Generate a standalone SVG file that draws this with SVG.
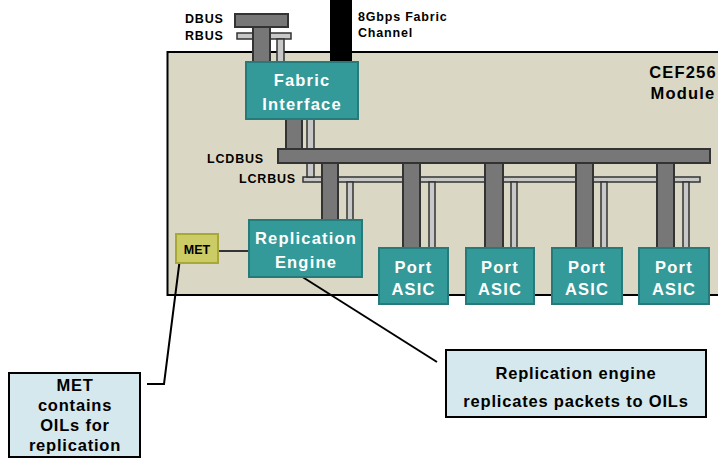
<svg xmlns="http://www.w3.org/2000/svg" width="718" height="458" viewBox="0 0 718 458">
  <style>
    text { font-family: "Liberation Sans", Arial, sans-serif; font-weight: bold; }
    .lbl { font-size: 12.5px; fill: #000; letter-spacing: 0.8px; }
    .box { fill: #339999; stroke: #267a7a; stroke-width: 2; }
    .boxt { font-size: 16.5px; fill: #fff; text-anchor: middle; letter-spacing: 1.2px; }
    .dbar { fill: #777; stroke: #333; stroke-width: 2; }
    .lbar { fill: #c8c8c8; stroke: #333; stroke-width: 1.5; }
    .note { fill: #d5e8ed; stroke: #000; stroke-width: 2; }
    .notet { font-size: 16.5px; fill: #000; text-anchor: middle; letter-spacing: 0.8px; }
    .wire { fill: none; stroke: #000; stroke-width: 2; }
  </style>

  <!-- module outline -->
  <g id="module">
    <rect x="167.5" y="52" width="560" height="243" fill="#dad8c4" stroke="#000" stroke-width="2"/>
    <text class="boxt" x="683" y="78" style="fill:#000">CEF256</text>
    <text class="boxt" x="683" y="99" style="fill:#000">Module</text>
  </g>

  <!-- buses and bus taps -->
  <g id="connectors">
    <!-- fabric channel -->
    <rect x="330" y="0" width="22" height="64" fill="#000"/>
    <!-- RBUS bar and tap -->
    <rect class="lbar" x="237" y="33" width="54" height="6"/>
    <rect class="lbar" x="277" y="39" width="7" height="24"/>
    <!-- DBUS bar and tap -->
    <rect class="dbar" x="235" y="14" width="53" height="13"/>
    <rect class="dbar" x="253" y="27" width="17" height="36"/>
    <!-- LCRBUS bar -->
    <rect class="lbar" x="303" y="177" width="397" height="5"/>
    <!-- fabric interface taps -->
    <rect class="lbar" x="307" y="118" width="7" height="59"/>
    <rect class="dbar" x="286" y="118" width="16" height="31"/>
    <!-- LCRBUS taps -->
    <rect class="lbar" x="347" y="182" width="6" height="38"/>
    <rect class="lbar" x="429" y="182" width="6" height="66"/>
    <rect class="lbar" x="511" y="182" width="6" height="66"/>
    <rect class="lbar" x="601" y="182" width="6" height="66"/>
    <rect class="lbar" x="683" y="182" width="6" height="66"/>
    <!-- LCDBUS taps -->
    <rect class="dbar" x="322" y="163" width="16" height="57"/>
    <rect class="dbar" x="403" y="163" width="17" height="85"/>
    <rect class="dbar" x="485" y="163" width="18" height="85"/>
    <rect class="dbar" x="576" y="163" width="17" height="85"/>
    <rect class="dbar" x="657" y="163" width="17" height="85"/>
    <!-- LCDBUS bar -->
    <rect class="dbar" x="278" y="149" width="432" height="14"/>
    <!-- MET to replication engine -->
    <line x1="218" y1="251" x2="249" y2="251" stroke="#333" stroke-width="2"/>
    <!-- callout leaders -->
    <polyline class="wire" points="147,384 164,384 180,258"/>
    <line class="wire" x1="293" y1="271" x2="437" y2="362"/>
  </g>

  <!-- bus labels -->
  <g id="labels">
    <text class="lbl" x="185" y="22.5">DBUS</text>
    <text class="lbl" x="185" y="39.5">RBUS</text>
    <text class="lbl" x="358" y="20.5">8Gbps Fabric</text>
    <text class="lbl" x="358" y="36.5">Channel</text>
    <text class="lbl" x="264" y="162.5" text-anchor="end">LCDBUS</text>
    <text class="lbl" x="296" y="182.5" text-anchor="end">LCRBUS</text>
  </g>

  <g id="fabric-interface">
    <rect class="box" x="246" y="62" width="112" height="57"/>
    <text class="boxt" x="302" y="86">Fabric</text>
    <text class="boxt" x="302" y="110">Interface</text>
  </g>

  <g id="replication-engine">
    <rect class="box" x="249" y="220" width="113" height="57"/>
    <text class="boxt" x="306" y="244">Replication</text>
    <text class="boxt" x="306" y="268">Engine</text>
  </g>

  <g id="met">
    <rect x="176" y="234" width="42" height="29" fill="#cccc66" stroke="#a8a838" stroke-width="2"/>
    <text x="197" y="253.5" text-anchor="middle" style="font-size:12.5px;fill:#000">MET</text>
  </g>

  <g id="port-asic-1">
    <rect class="box" x="379" y="248" width="69" height="56"/>
    <text class="boxt" x="413.5" y="273">Port</text>
    <text class="boxt" x="413.5" y="295">ASIC</text>
  </g>
  <g id="port-asic-2">
    <rect class="box" x="466" y="248" width="68" height="56"/>
    <text class="boxt" x="500" y="273">Port</text>
    <text class="boxt" x="500" y="295">ASIC</text>
  </g>
  <g id="port-asic-3">
    <rect class="box" x="552" y="248" width="70" height="56"/>
    <text class="boxt" x="587" y="273">Port</text>
    <text class="boxt" x="587" y="295">ASIC</text>
  </g>
  <g id="port-asic-4">
    <rect class="box" x="639" y="248" width="70" height="56"/>
    <text class="boxt" x="674" y="273">Port</text>
    <text class="boxt" x="674" y="295">ASIC</text>
  </g>

  <g id="met-note">
    <rect class="note" x="9" y="373" width="131" height="84"/>
    <text class="notet" x="75" y="391">MET</text>
    <text class="notet" x="75" y="411">contains</text>
    <text class="notet" x="75" y="431">OILs for</text>
    <text class="notet" x="75" y="451">replication</text>
  </g>

  <g id="replication-note">
    <rect class="note" x="446" y="350" width="260" height="67"/>
    <text class="notet" x="576" y="379">Replication engine</text>
    <text class="notet" x="576" y="407">replicates packets to OILs</text>
  </g>
</svg>
